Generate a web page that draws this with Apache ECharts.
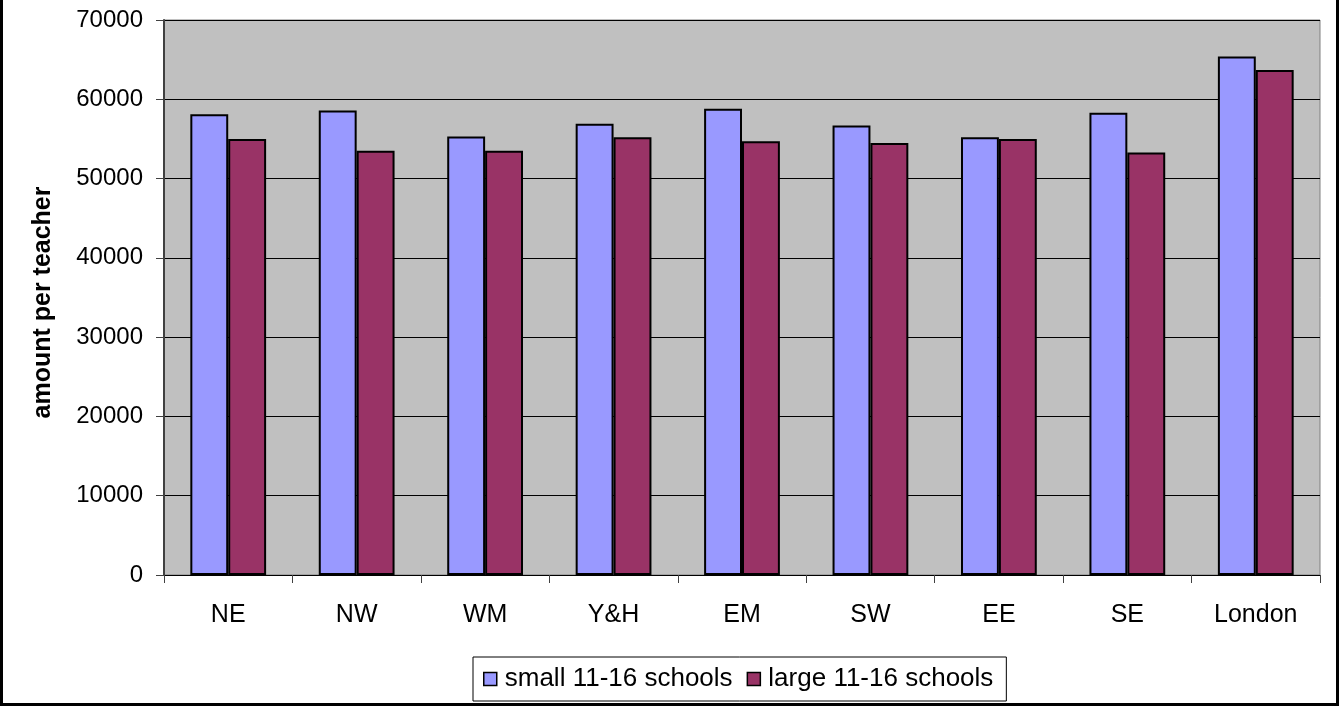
<!DOCTYPE html>
<html>
<head>
<meta charset="utf-8">
<script src="https://cdn.jsdelivr.net/npm/echarts@6/dist/echarts.min.js"></script>
<style>
  html, body { margin: 0; padding: 0; background: #fff; }
  #chart { width: 1341px; height: 706px; }
</style>
</head>
<body>
<div id="chart"></div>
<script>
// Regions along the x axis
const regions = ['NE', 'NW', 'WM', 'Y&H', 'EM', 'SW', 'EE', 'SE', 'London'];
// Amount per teacher, by school size
const smallSchools = [58100, 58600, 55300, 56900, 58800, 56700, 55200, 58300, 65400];
const largeSchools = [55000, 53500, 53500, 55200, 54700, 54500, 55000, 53300, 63700];
const seriesNames = ['small 11-16 schools', 'large 11-16 schools'];
const yTicks = { min: 0, max: 70000, interval: 10000 };

const font = 'Arial, "Liberation Sans", sans-serif';
const chart = echarts.init(document.getElementById('chart'));

chart.setOption({
  animation: false,
  backgroundColor: '#ffffff',
  graphic: [{
    type: 'rect',
    shape: { x: 1.5, y: -2, width: 1336, height: 706.5 },
    style: { fill: 'none', stroke: '#000', lineWidth: 3 },
    silent: true,
    z: 100
  }],
  grid: {
    left: 164, right: 21, top: 20, bottom: 131,
    show: true,
    backgroundColor: '#c0c0c0',
    borderColor: '#808080',
    borderWidth: 1
  },
  legend: {
    left: 473, top: 657,
    itemWidth: 13, itemHeight: 13, itemGap: 14,
    padding: [9, 13, 9, 10],
    borderColor: '#000', borderWidth: 1, borderRadius: 0,
    backgroundColor: '#fff',
    icon: 'rect',
    itemStyle: { borderWidth: 1.5 },
    textStyle: { fontFamily: font, fontSize: 26, color: '#000', padding: [0, 0, 0, 3] },
    data: seriesNames
  },
  xAxis: {
    type: 'category',
    data: regions,
    axisLine: { lineStyle: { color: '#000', width: 1 } },
    axisTick: { show: true, length: 8, alignWithLabel: false, lineStyle: { color: '#404040' } },
    axisLabel: { fontFamily: font, fontSize: 25, color: '#000', margin: 28 },
    splitLine: { show: false }
  },
  yAxis: {
    type: 'value',
    min: yTicks.min, max: yTicks.max, interval: yTicks.interval,
    name: 'amount per teacher',
    nameLocation: 'middle',
    nameGap: 108,
    nameTextStyle: {
      fontFamily: font, fontSize: 25, fontWeight: 'bold', color: '#000',
      padding: [0, 10, 0, 0]
    },
    axisLine: { show: true, lineStyle: { color: '#404040', width: 2 } },
    axisTick: { show: true, inside: false, length: 8, lineStyle: { color: '#404040' } },
    axisLabel: {
      fontFamily: font, fontSize: 24, color: '#000', margin: 21,
      formatter: (v) => String(v)
    },
    splitLine: { show: true, lineStyle: { color: '#000', width: 1 } }
  },
  series: [
    {
      name: seriesNames[0],
      type: 'bar',
      data: smallSchools,
      barGap: '0%',
      barCategoryGap: '41%',
      itemStyle: { color: '#9999ff', borderColor: '#000', borderWidth: 2 }
    },
    {
      name: seriesNames[1],
      type: 'bar',
      data: largeSchools,
      itemStyle: { color: '#993366', borderColor: '#000', borderWidth: 2 }
    }
  ]
});
</script>
</body>
</html>
